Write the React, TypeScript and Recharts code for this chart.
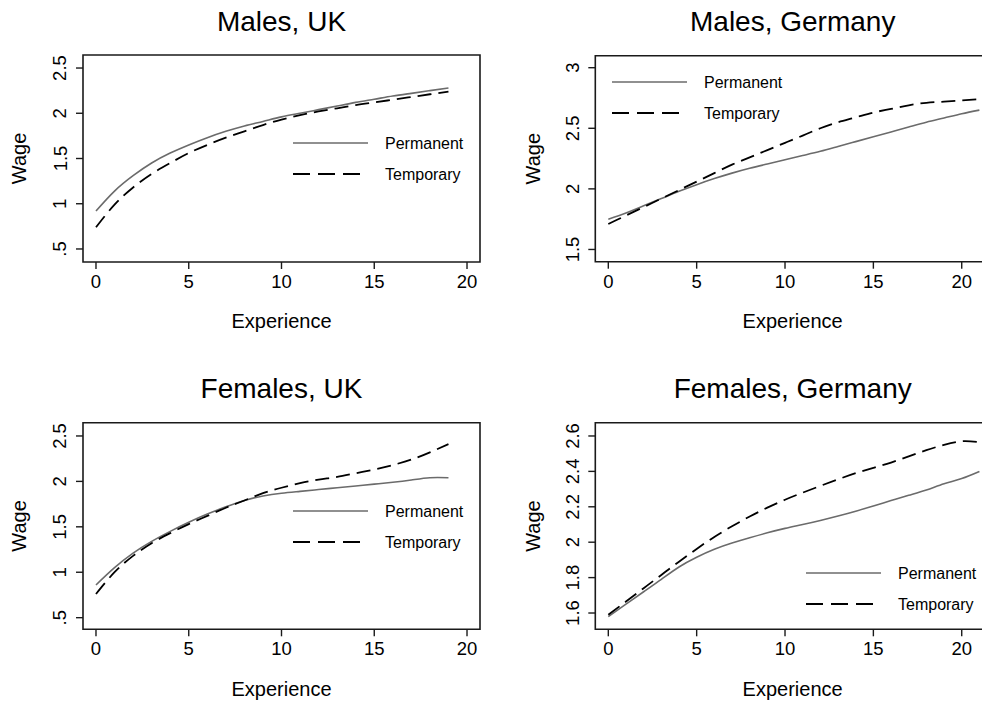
import React from "react";
import { LineChart, Line, XAxis, YAxis, ReferenceArea, Legend } from "recharts";

// ---------- data ----------
const experienceUK = [0, 1, 2, 3, 4, 5, 6, 7, 8, 9, 10, 11, 12, 13, 14, 15, 16, 17, 18, 19];
const ukMalePermanent = [0.92, 1.14, 1.31, 1.45, 1.56, 1.65, 1.73, 1.8, 1.86, 1.91, 1.96, 2.0, 2.04, 2.08, 2.12, 2.155, 2.19, 2.22, 2.25, 2.28];
const ukMaleTemporary = [0.74, 0.99, 1.18, 1.33, 1.45, 1.56, 1.65, 1.73, 1.8, 1.87, 1.93, 1.98, 2.02, 2.055, 2.09, 2.12, 2.15, 2.18, 2.21, 2.24];
const ukFemalePermanent = [0.86, 1.05, 1.21, 1.34, 1.45, 1.55, 1.64, 1.72, 1.79, 1.84, 1.87, 1.89, 1.91, 1.93, 1.95, 1.97, 1.99, 2.015, 2.04, 2.04];
const ukFemaleTemporary = [0.76, 1.0, 1.18, 1.32, 1.43, 1.53, 1.62, 1.71, 1.79, 1.87, 1.93, 1.98, 2.02, 2.05, 2.09, 2.13, 2.18, 2.24, 2.32, 2.41];

const experienceDE = [0, 1, 2, 3, 4, 5, 6, 7, 8, 9, 10, 11, 12, 13, 14, 15, 16, 17, 18, 19, 20, 21];
const deMalePermanent = [1.75, 1.8, 1.86, 1.92, 1.98, 2.035, 2.085, 2.13, 2.17, 2.205, 2.24, 2.275, 2.31, 2.35, 2.39, 2.43, 2.47, 2.51, 2.55, 2.585, 2.62, 2.65];
const deMaleTemporary = [1.71, 1.78, 1.85, 1.92, 1.99, 2.06, 2.13, 2.2, 2.26, 2.32, 2.38, 2.44, 2.5, 2.55, 2.59, 2.63, 2.66, 2.69, 2.71, 2.72, 2.73, 2.74];
const deFemalePermanent = [1.58, 1.65, 1.72, 1.79, 1.86, 1.915, 1.96, 1.995, 2.025, 2.053, 2.078, 2.1, 2.123, 2.148, 2.175, 2.205, 2.235, 2.265, 2.295, 2.33, 2.36, 2.4];
const deFemaleTemporary = [1.59, 1.665, 1.74, 1.815, 1.89, 1.962, 2.03, 2.09, 2.145, 2.195, 2.24, 2.28, 2.318, 2.355, 2.39, 2.42, 2.45, 2.485, 2.52, 2.55, 2.57, 2.565];

const xTicks = [0, 5, 10, 15, 20];
const ukYTicks = [0.5, 1, 1.5, 2, 2.5];
const deMaleYTicks = [1.5, 2, 2.5, 3];
const deFemaleYTicks = [1.6, 1.8, 2, 2.2, 2.4, 2.6];

const seriesNames = ["Permanent", "Temporary"];
const panelTitles = ["Males, UK", "Males, Germany", "Females, UK", "Females, Germany"];
const xLabel = "Experience";
const yLabel = "Wage";

// ---------- styles ----------
const FONT = "'Liberation Sans', Arial, Helvetica, sans-serif";
const PERM_COLOR = "#6b6b6b";
const TEMP_COLOR = "#000000";
const FRAME = "#1a1a1a";

const build = (xs: number[], a: number[], b: number[]) =>
  xs.map((x, i) => ({ x, perm: a[i], temp: b[i] }));

const fmt = (v: number) => (v === 0.5 ? ".5" : String(v));

type Panel = {
  title: string;
  left: number;
  top: number;
  width: number;
  height: number;
  margin: { top: number; right: number; bottom: number; left: number };
  xDomain: [number, number];
  yDomain: [number, number];
  yTicks: number[];
  data: { x: number; perm: number; temp: number }[];
  titleX: number;
  titleY: number;
  wageX: number;
  expY: number;
  legendX: number;
  legendY: number;
};

const panels: Panel[] = [
  {
    title: panelTitles[0],
    left: 0, top: 0, width: 491, height: 351,
    margin: { top: 55, right: 11, bottom: 29, left: 23 },
    xDomain: [-0.7, 20.7], yDomain: [0.356, 2.644], yTicks: ukYTicks,
    data: build(experienceUK, ukMalePermanent, ukMaleTemporary),
    titleX: 281.5, titleY: 30.5, wageX: 18.5, expY: 328.3,
    legendX: 293, legendY: 143,
  },
  {
    title: panelTitles[1],
    left: 491, top: 0, width: 510, height: 351,
    margin: { top: 55.7, right: 11, bottom: 29.3, left: 44.3 },
    xDomain: [-0.736, 21.6], yDomain: [1.399, 3.099], yTicks: deMaleYTicks,
    data: build(experienceDE, deMalePermanent, deMaleTemporary),
    titleX: 301.7, titleY: 30.7, wageX: 41.7, expY: 328.3,
    legendX: 121, legendY: 82.3,
  },
  {
    title: panelTitles[2],
    left: 0, top: 351, width: 491, height: 351,
    margin: { top: 71.7, right: 11, bottom: 12.7, left: 23 },
    xDomain: [-0.7, 20.7], yDomain: [0.372, 2.646], yTicks: ukYTicks,
    data: build(experienceUK, ukFemalePermanent, ukFemaleTemporary),
    titleX: 281.5, titleY: 47.3, wageX: 18.5, expY: 344.5,
    legendX: 293, legendY: 160,
  },
  {
    title: panelTitles[3],
    left: 491, top: 351, width: 510, height: 351,
    margin: { top: 71.7, right: 11, bottom: 12.7, left: 44.3 },
    xDomain: [-0.736, 21.6], yDomain: [1.508, 2.675], yTicks: deFemaleYTicks,
    data: build(experienceDE, deFemalePermanent, deFemaleTemporary),
    titleX: 301.7, titleY: 47.3, wageX: 41.7, expY: 344.5,
    legendX: 315, legendY: 222.3,
  },
];

const XTick = (props: any) => {
  const { x, y, payload } = props;
  return (
    <text x={x} y={y} textAnchor="middle" dominantBaseline="central" fontFamily={FONT} fontSize={18.5} fill="#000">
      {fmt(payload.value)}
    </text>
  );
};

const YTick = (props: any) => {
  const { x, y, payload } = props;
  return (
    <text
      x={x}
      y={y}
      transform={`rotate(-90 ${x} ${y})`}
      textAnchor="middle"
      dominantBaseline="central"
      fontFamily={FONT}
      fontSize={18.5}
      fill="#000"
    >
      {fmt(payload.value)}
    </text>
  );
};

const LegendBox = () => (
  <svg width={200} height={56} style={{ overflow: "visible", display: "block" }}>
    <line x1={2} y1={12} x2={77} y2={12} stroke={PERM_COLOR} strokeWidth={1.6} />
    <text x={94} y={12} dominantBaseline="central" fontFamily={FONT} fontSize={16} fill="#000">
      {seriesNames[0]}
    </text>
    <line x1={2} y1={43} x2={77} y2={43} stroke={TEMP_COLOR} strokeWidth={1.8} strokeDasharray="17 8" />
    <text x={94} y={43} dominantBaseline="central" fontFamily={FONT} fontSize={16} fill="#000">
      {seriesNames[1]}
    </text>
  </svg>
);

const PanelChart = ({ p }: { p: Panel }) => {
  const plotLeft = p.margin.left + 60;
  const plotRight = p.width - p.margin.right;
  const plotTop = p.margin.top;
  const plotBottom = p.height - p.margin.bottom - 60;
  const midX = (plotLeft + plotRight) / 2;
  const midY = (plotTop + plotBottom) / 2;
  return (
    <div style={{ position: "absolute", left: p.left, top: p.top, width: p.width, height: p.height }}>
      <LineChart width={p.width} height={p.height} data={p.data} margin={p.margin}>
        <XAxis
          dataKey="x"
          type="number"
          domain={p.xDomain}
          allowDataOverflow
          ticks={xTicks}
          interval={0}
          height={60}
          axisLine={false}
          tickSize={7}
          tickMargin={12.5}
          tickLine={{ stroke: FRAME, strokeWidth: 1.4 }}
          tick={<XTick />}
          label={{
            content: () => (
              <text x={midX} y={p.expY} textAnchor="middle" fontFamily={FONT} fontSize={20} fill="#000">
                {xLabel}
              </text>
            ),
          }}
        />
        <YAxis
          type="number"
          domain={p.yDomain}
          allowDataOverflow
          ticks={p.yTicks}
          interval={0}
          width={60}
          axisLine={false}
          tickSize={7}
          tickMargin={16}
          tickLine={{ stroke: FRAME, strokeWidth: 1.4 }}
          tick={<YTick />}
          label={{
            content: () => (
              <text
                x={p.wageX}
                y={midY}
                transform={`rotate(-90 ${p.wageX} ${midY})`}
                textAnchor="middle"
                dominantBaseline="central"
                fontFamily={FONT}
                fontSize={20}
                fill="#000"
              >
                {yLabel}
              </text>
            ),
          }}
        />
        <ReferenceArea
          x1={p.xDomain[0]}
          x2={p.xDomain[1]}
          y1={p.yDomain[0]}
          y2={p.yDomain[1]}
          fill="none"
          fillOpacity={0}
          stroke={FRAME}
          strokeWidth={1.6}
          ifOverflow="visible"
        />
        <Line
          type="natural"
          dataKey="perm"
          name={seriesNames[0]}
          stroke={PERM_COLOR}
          strokeWidth={1.6}
          dot={false}
          activeDot={false}
          isAnimationActive={false}
        />
        <Line
          type="natural"
          dataKey="temp"
          name={seriesNames[1]}
          stroke={TEMP_COLOR}
          strokeWidth={1.8}
          strokeDasharray="14 7"
          dot={false}
          activeDot={false}
          isAnimationActive={false}
        />
        <Legend
          layout="vertical"
          align="center"
          verticalAlign="middle"
          content={() => <LegendBox />}
          wrapperStyle={{ left: p.legendX - 2, top: p.legendY - 12, width: 200, height: 56, margin: 0 }}
        />
      </LineChart>
      <svg
        width={p.width}
        height={60}
        style={{ position: "absolute", left: 0, top: 0, pointerEvents: "none", overflow: "visible" }}
      >
        <text x={p.titleX} y={p.titleY} textAnchor="middle" fontFamily={FONT} fontSize={28} fill="#000">
          {p.title}
        </text>
      </svg>
    </div>
  );
};

export default function App() {
  return (
    <div
      style={{
        position: "fixed",
        left: 0,
        top: 0,
        width: 982,
        height: 702,
        overflow: "hidden",
        background: "#fff",
      }}
    >
      {panels.map((p) => (
        <PanelChart key={p.title} p={p} />
      ))}
    </div>
  );
}
